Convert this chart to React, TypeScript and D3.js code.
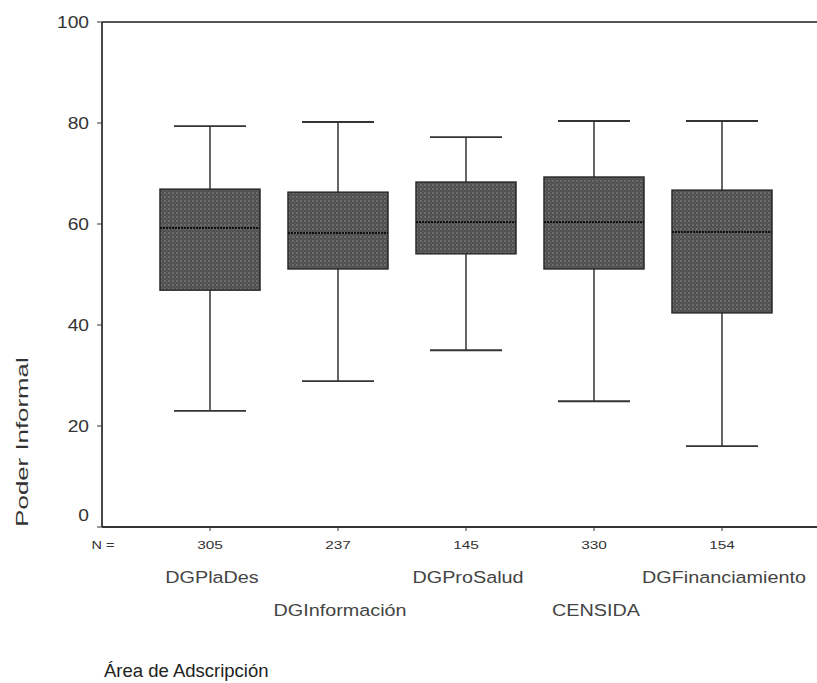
import { useRef, useEffect } from "react";
import * as d3 from "d3";

const categories = ["DGPlaDes", "DGInformación", "DGProSalud", "CENSIDA", "DGFinanciamiento"];
const counts = [305, 237, 145, 330, 154];
const whiskerLow = [23.0, 28.9, 35.0, 24.9, 16.0];
const q1 = [46.9, 51.1, 54.1, 51.1, 42.4];
const medians = [59.2, 58.2, 60.4, 60.4, 58.4];
const q3 = [66.9, 66.3, 68.3, 69.3, 66.7];
const whiskerHigh = [79.4, 80.2, 77.2, 80.4, 80.4];
const yTicks = [0, 20, 40, 60, 80, 100];

export default function App() {
  const svgRef = useRef<SVGSVGElement>(null);

  useEffect(() => {
    if (!svgRef.current) return;
    const width = 817;
    const height = 683;
    const svg = d3.select(svgRef.current);
    svg.selectAll("*").remove();
    svg.attr("width", width).attr("height", height);

    const font = "Arial, 'Liberation Sans', sans-serif";
    const ink = "#333";

    // text that is a bit wider than the font, as in the scanned original
    const label = (
      parent: d3.Selection<any, unknown, null, undefined>,
      x: number,
      y: number,
      txt: string,
      size: number,
      sx: number,
      anchor = "middle",
      rot = 0,
      fill = ink
    ) =>
      parent
        .append("text")
        .attr("transform", `translate(${x},${y}) rotate(${rot}) scale(${sx},1)`)
        .attr("text-anchor", anchor)
        .attr("font-family", font)
        .attr("font-size", size)
        .attr("fill", fill)
        .text(txt);

    const defs = svg.append("defs");
    const pat = defs
      .append("pattern")
      .attr("id", "dots")
      .attr("width", 4)
      .attr("height", 4)
      .attr("patternUnits", "userSpaceOnUse");
    pat.append("rect").attr("width", 4).attr("height", 4).attr("fill", "#505050");
    pat.append("circle").attr("cx", 1).attr("cy", 1).attr("r", 0.9).attr("fill", "#7a7a7a");
    pat.append("circle").attr("cx", 3).attr("cy", 3).attr("r", 0.7).attr("fill", "#636363");

    const y = d3.scaleLinear().domain([0, 100]).range([527, 22]);
    const x = d3.scaleBand<string>().domain(categories).range([146, 786]);
    const cx = (c: string) => (x(c) || 0) + x.bandwidth() / 2;
    const boxW = 100;
    const capW = 72;

    const data = categories.map((c, i) => ({
      c,
      n: counts[i],
      lo: whiskerLow[i],
      q1: q1[i],
      med: medians[i],
      q3: q3[i],
      hi: whiskerHigh[i],
    }));

    // frame lines: top and bottom run to the right edge
    svg.append("line").attr("x1", 102).attr("x2", width).attr("y1", y(100)).attr("y2", y(100))
      .attr("stroke", "#555").attr("stroke-width", 1.8);
    svg.append("line").attr("x1", 102).attr("x2", width).attr("y1", y(0)).attr("y2", y(0))
      .attr("stroke", ink).attr("stroke-width", 1.8);
    svg.append("line").attr("x1", 102).attr("x2", 102).attr("y1", y(100)).attr("y2", y(0))
      .attr("stroke", ink).attr("stroke-width", 1.8);

    // y ticks
    const yt = svg.append("g");
    yt.selectAll("line").data(yTicks).enter().append("line")
      .attr("x1", 97).attr("x2", 102).attr("y1", (d) => y(d)).attr("y2", (d) => y(d))
      .attr("stroke", ink).attr("stroke-width", 1);
    yTicks.forEach((t) => {
      label(yt, 89, y(t) + (t === 0 ? -6 : 6), String(t), 16, 1.2, "end");
    });

    // x ticks
    svg.selectAll(".xtick").data(data).enter().append("line")
      .attr("x1", (d) => cx(d.c)).attr("x2", (d) => cx(d.c))
      .attr("y1", y(0)).attr("y2", y(0) + 4)
      .attr("stroke", ink).attr("stroke-width", 1);

    const g = svg.append("g");
    data.forEach((d) => {
      const c = cx(d.c);
      const s = g.append("g");
      s.append("line").attr("x1", c).attr("x2", c).attr("y1", y(d.hi)).attr("y2", y(d.q3))
        .attr("stroke", ink).attr("stroke-width", 1.5);
      s.append("line").attr("x1", c).attr("x2", c).attr("y1", y(d.q1)).attr("y2", y(d.lo))
        .attr("stroke", ink).attr("stroke-width", 1.5);
      s.append("line").attr("x1", c - capW / 2).attr("x2", c + capW / 2).attr("y1", y(d.hi)).attr("y2", y(d.hi))
        .attr("stroke", ink).attr("stroke-width", 1.8);
      s.append("line").attr("x1", c - capW / 2).attr("x2", c + capW / 2).attr("y1", y(d.lo)).attr("y2", y(d.lo))
        .attr("stroke", ink).attr("stroke-width", 1.8);
      s.append("rect").attr("x", c - boxW / 2).attr("width", boxW)
        .attr("y", y(d.q3)).attr("height", y(d.q1) - y(d.q3))
        .attr("fill", "url(#dots)").attr("stroke", "#2a2a2a").attr("stroke-width", 1.5);
      s.append("line").attr("x1", c - boxW / 2).attr("x2", c + boxW / 2).attr("y1", y(d.med)).attr("y2", y(d.med))
        .attr("stroke", "#111").attr("stroke-width", 2).attr("stroke-dasharray", "2 1");
      label(s, c, y(0) + 22, String(d.n), 11, 1.4);
    });

    label(svg, 103, y(0) + 22, "N =", 10, 1.45);

    // category labels on two staggered rows
    data.forEach((d, i) => {
      label(svg, cx(d.c) + 2, i % 2 === 0 ? 583 : 616, d.c, 16.5, 1.2, "middle", 0, "#444");
    });

    label(svg, 104, 677, "Área de Adscripción", 18.5, 1.0, "start", 0, "#222");
    label(svg, 28, 442, "Poder Informal", 17, 1.52, "middle", -90);
  }, []);

  return (
    <div style={{ position: "absolute", left: 0, top: 0 }}>
      <svg ref={svgRef} style={{ display: "block" }} />
    </div>
  );
}
